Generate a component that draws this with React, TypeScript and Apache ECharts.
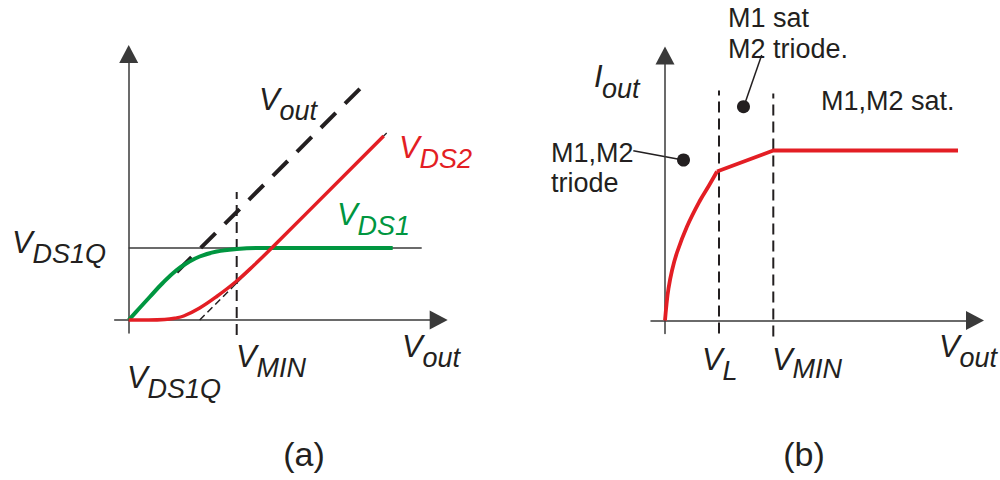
import React, { useEffect, useRef } from 'react';
import * as echarts from 'echarts';

// ---------- data (plot units) ----------
// (a) left plot
const LEFT_X_RANGE = [-1.4, 31];
const LEFT_Y_RANGE = [-1.3, 26.6];
const VDS1Q_LEVEL = 7.2;
const VMIN_A = 10.8;
const vds1Curve: number[][] = [
  [0, 0], [1, 1.1], [2.1, 2.3], [3.4, 3.7], [4.8, 5.0], [6, 5.8], [7.1, 6.35], [8.8, 6.85], [10.8, 7.1], [13, 7.2], [26.4, 7.2],
];
const vds2Curve: number[][] = [
  [0, 0], [2, 0], [3.6, 0.05], [4.6, 0.18], [5.5, 0.4], [7.1, 1.2], [8.8, 2.35], [10.8, 3.9], [12.5, 5.45], [14.3, 7.2], [25.5, 18.4],
];
const voutDiagonal: number[][] = [[4.8, 4.8], [23.3, 23.3]];
const asymptoteDashed: number[][] = [[7.1, 0], [10.4, 3.3]];
const asymptoteSolid: number[][] = [[10.4, 3.3], [25.8, 18.7]];
const vds1qLine: number[][] = [[0, VDS1Q_LEVEL], [29.3, VDS1Q_LEVEL]];
const vminLineA: number[][] = [[VMIN_A, -1.5], [VMIN_A, 12.8]];

// (b) right plot
const RIGHT_X_RANGE = [-1.4, 31];
const RIGHT_Y_RANGE = [-1.3, 26.5];
const VL_B = 5.4;
const VMIN_B = 10.83;
const ioutTriode: number[][] = [
  [0, 0], [0.15, 1.6], [0.35, 3.2], [0.7, 5.0], [1.2, 6.8], [2.2, 9.4], [3.5, 12.0], [4.4, 13.5], [5.2, 14.9],
];
const ioutSat: number[][] = [[5.2, 14.9], [VMIN_B, 17.0], [29.3, 17.0]];
const vlLineB: number[][] = [[VL_B, -1.3], [VL_B, 23.0]];
const vminLineB: number[][] = [[VMIN_B, -1.6], [VMIN_B, 22.7]];

// ---------- styles ----------
const RED = '#e31e24';
const GREEN = '#009640';
const INK = '#231f20';
const AXIS = '#3a3a3a';
const FONT = '"Liberation Sans", Arial, Helvetica, sans-serif';

function txt(x: number, y: number, text: string, size: number, italic: boolean, color = INK, align = 'left') {
  return {
    type: 'text',
    x,
    y,
    silent: true,
    style: {
      text,
      fill: color,
      fontSize: size,
      fontFamily: FONT,
      fontStyle: italic ? 'italic' : 'normal',
      textAlign: align,
      align,
      textVerticalAlign: 'middle',
      verticalAlign: 'middle',
    },
  };
}

function subLabel(x: number, baseY: number, main: string, sub: string, color = INK, subDx = 20.5, subDy = 10.5) {
  return [
    txt(x, baseY - 10.7, main, 31, true, color),
    txt(x + subDx, baseY + subDy - 9.4, sub, 27, true, color),
  ];
}

function axisCfg(grid: number, range: number[]) {
  return {
    gridIndex: grid,
    type: 'value',
    min: range[0],
    max: range[1],
    axisLine: {
      show: true,
      onZero: true,
      symbol: ['none', 'triangle'],
      symbolSize: [19, 18],
      lineStyle: { color: AXIS, width: 1.5 },
    },
    axisTick: { show: false },
    axisLabel: { show: false },
    splitLine: { show: false },
  };
}

function lineSeries(data: number[][], idx: number, color: string, width: number, type: any = 'solid', smooth: any = false, z = 2) {
  return {
    type: 'line',
    data,
    xAxisIndex: idx,
    yAxisIndex: idx,
    symbol: 'none',
    showSymbol: false,
    smooth,
    clip: false,
    silent: true,
    z,
    lineStyle: { color, width, type, cap: 'butt' },
  };
}

export default function App() {
  const ref = useRef<HTMLDivElement>(null);
  useEffect(() => {
    if (!ref.current) return;
    const chart = echarts.init(ref.current, null, { renderer: 'svg' });
    const option: any = {
      animation: false,
      backgroundColor: '#ffffff',
      grid: [
        { left: 114.7, top: 54, width: 324, height: 279 },
        { left: 651, top: 55.5, width: 324, height: 278 },
      ],
      xAxis: [axisCfg(0, LEFT_X_RANGE), axisCfg(1, RIGHT_X_RANGE)],
      yAxis: [axisCfg(0, LEFT_Y_RANGE), axisCfg(1, RIGHT_Y_RANGE)],
      series: [
        lineSeries(vds1qLine, 0, AXIS, 1.5, 'solid', false, 2),
        lineSeries(asymptoteSolid, 0, INK, 1.3, 'solid', false, 2),
        lineSeries(asymptoteDashed, 0, INK, 1.5, [7, 4], false, 2),
        lineSeries(voutDiagonal, 0, INK, 4, [21, 13], false, 2),
        lineSeries(vminLineA, 0, INK, 2, [11, 6], false, 2),
        lineSeries(vds1Curve, 0, GREEN, 4, 'solid', 0.4, 3),
        lineSeries(vds2Curve, 0, RED, 3.5, 'solid', 0.4, 4),
        lineSeries(vlLineB, 1, INK, 2, [11, 6], false, 2),
        lineSeries(vminLineB, 1, INK, 2, [11, 6], false, 2),
        lineSeries(ioutTriode, 1, RED, 3.8, 'solid', 0.4, 4),
        lineSeries(ioutSat, 1, RED, 3.8, 'solid', false, 4),
      ],
      graphic: [
        // (a) labels
        ...subLabel(12, 253, 'V', 'DS1Q'),
        ...subLabel(127, 388, 'V', 'DS1Q'),
        ...subLabel(236, 367, 'V', 'MIN'),
        ...subLabel(402, 357, 'V', 'out'),
        ...subLabel(399, 158, 'V', 'DS2', RED),
        ...subLabel(337, 225, 'V', 'DS1', GREEN),
        ...subLabel(259, 110, 'V', 'out'),
        // (b) labels
        txt(594, 87 - 10.7, 'I', 31, true),
        txt(602, 98 - 9.4, 'out', 27, true),
        ...subLabel(702, 370, 'V', 'L', INK, 20.5, 10),
        ...subLabel(772, 370, 'V', 'MIN', INK, 20.5, 8),
        ...subLabel(939, 357, 'V', 'out'),
        txt(728, 17.6, 'M1 sat', 27, false),
        txt(728, 48.6, 'M2 triode.', 27, false),
        txt(821, 100.6, 'M1,M2 sat.', 27, false),
        txt(551, 152.6, 'M1,M2', 27, false),
        txt(551, 182.6, 'triode', 27, false),
        {
          type: 'line', silent: true,
          shape: { x1: 761.7, y1: 55, x2: 744, y2: 106 },
          style: { stroke: INK, lineWidth: 1.5 },
        },
        {
          type: 'line', silent: true,
          shape: { x1: 633.3, y1: 150.7, x2: 683, y2: 160 },
          style: { stroke: INK, lineWidth: 1.5 },
        },
        { type: 'circle', silent: true, shape: { cx: 743.5, cy: 106.7, r: 6.5 }, style: { fill: INK } },
        { type: 'circle', silent: true, shape: { cx: 683.5, cy: 160, r: 6.5 }, style: { fill: INK } },
        // panel captions
        txt(304, 454, '(a)', 34, false, INK, 'center'),
        txt(804, 454, '(b)', 34, false, INK, 'center'),
      ],
    };
    chart.setOption(option);
    return () => chart.dispose();
  }, []);
  return (
    <div
      ref={ref}
      style={{ position: 'fixed', left: 0, top: 0, width: 1000, height: 480, background: '#fff' }}
    />
  );
}
